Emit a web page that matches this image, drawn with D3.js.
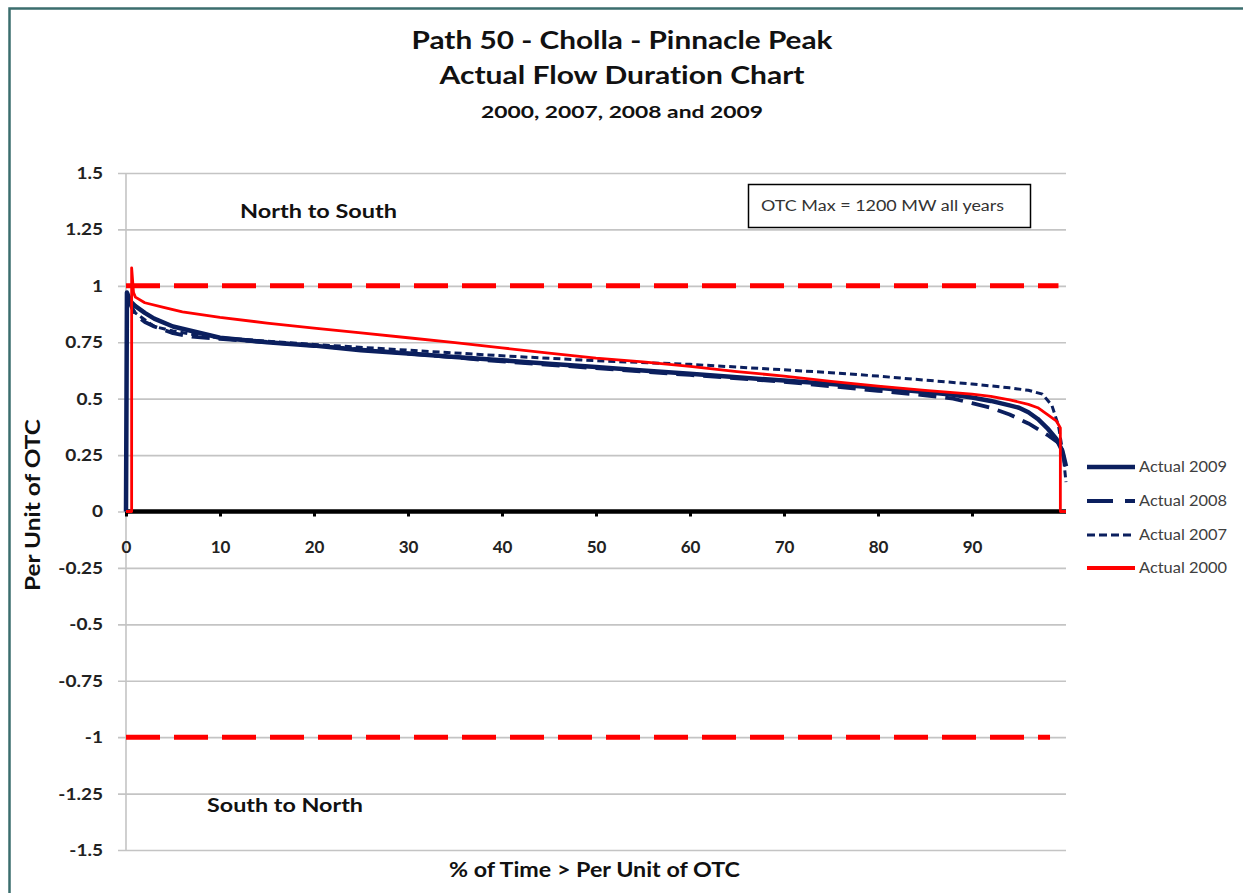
<!DOCTYPE html>
<html><head><meta charset="utf-8">
<script src="https://cdn.jsdelivr.net/npm/d3@7"></script>
<style>
html,body{margin:0;padding:0;background:#fff;}
svg{display:block;}
text{font-family:Lato,"Open Sans",sans-serif;font-variant-ligatures:none;font-feature-settings:"liga" 0,"clig" 0;}
</style></head>
<body>
<svg id="c" width="1243" height="893"></svg>
<script>
// ---- data ----
const titleLines = ["Path 50 - Cholla - Pinnacle Peak", "Actual Flow Duration Chart", "2000, 2007, 2008 and 2009"];
const yTickValues = [1.5, 1.25, 1, 0.75, 0.5, 0.25, 0, -0.25, -0.5, -0.75, -1, -1.25, -1.5];
const yTickLabels = ["1.5", "1.25", "1", "0.75", "0.5", "0.25", "0", "-0.25", "-0.5", "-0.75", "-1", "-1.25", "-1.5"];
const xTickValues = [0, 10, 20, 30, 40, 50, 60, 70, 80, 90];
const xTickLabels = ["0", "10", "20", "30", "40", "50", "60", "70", "80", "90"];
const seriesNames = ["Actual 2009", "Actual 2008", "Actual 2007", "Actual 2000"];

const x2009 = [0, 0.1, 0.5, 1, 2, 3, 5, 7, 10, 15, 20, 25, 30, 35, 40, 45, 50, 55, 60, 65, 70, 75, 80, 85, 88, 90, 92, 94, 95, 96, 97, 98, 99, 99.6, 100];
const y2009 = [0, 0.97, 0.93, 0.91, 0.88, 0.855, 0.82, 0.80, 0.77, 0.75, 0.735, 0.715, 0.70, 0.685, 0.67, 0.655, 0.64, 0.625, 0.61, 0.595, 0.58, 0.565, 0.548, 0.53, 0.517, 0.505, 0.49, 0.47, 0.46, 0.44, 0.41, 0.37, 0.32, 0.27, 0.2];

const x2008 = [0.1, 1, 2, 3, 5, 7, 10, 15, 20, 30, 40, 50, 55, 60, 70, 75, 80, 85, 88, 90, 92, 94, 96, 98, 99, 100];
const y2008 = [0.95, 0.87, 0.84, 0.82, 0.79, 0.775, 0.765, 0.75, 0.735, 0.70, 0.665, 0.635, 0.62, 0.605, 0.575, 0.555, 0.535, 0.515, 0.50, 0.48, 0.46, 0.43, 0.39, 0.34, 0.31, 0.28];

const x2007 = [0.1, 1, 2, 3, 5, 7, 10, 15, 20, 30, 40, 50, 60, 70, 75, 80, 85, 90, 94, 96, 97.5, 98.5, 99.2, 99.7, 100];
const y2007 = [0.94, 0.88, 0.85, 0.82, 0.80, 0.785, 0.77, 0.755, 0.74, 0.715, 0.69, 0.668, 0.652, 0.628, 0.615, 0.60, 0.582, 0.565, 0.548, 0.537, 0.52, 0.47, 0.38, 0.25, 0.13];

const x2000 = [0, 0.6, 0.6, 0.8, 1, 2, 4, 6, 10, 15, 20, 25, 30, 35, 40, 45, 50, 55, 60, 65, 70, 75, 80, 85, 90, 92, 94, 96, 97, 98, 99, 99.4, 99.4, 100];
const y2000 = [0, 0, 1.08, 0.97, 0.95, 0.925, 0.905, 0.885, 0.86, 0.835, 0.813, 0.792, 0.77, 0.748, 0.725, 0.702, 0.68, 0.663, 0.643, 0.62, 0.60, 0.577, 0.556, 0.537, 0.52, 0.51, 0.495, 0.475, 0.46, 0.43, 0.40, 0.37, 0, 0];

const limitUpperX = [0, 99.2];
const limitLowerX = [0, 98.3];
const limitUpper = [1, 1];
const limitLower = [-1, -1];

// ---- chart ----
const svg = d3.select("#c");
const x = d3.scaleLinear().domain([0, 100]).range([126, 1066]);
const y = d3.scaleLinear().domain([-1.5, 1.5]).range([850, 173]);

function fitText(sel, len) {
  return sel.attr("textLength", len).attr("lengthAdjust", "spacingAndGlyphs");
}

// outer border (teal)
svg.append("path").attr("d", "M9.5,893 L9.5,8.5 L1243,8.5")
  .attr("fill", "none").attr("stroke", "#3b6e6e").attr("stroke-width", 2.5);

// title
const titleSizes = [25, 24, 17];
const titleY = [49, 84, 118];
const titleW = [421, 365, 282];
titleLines.forEach((t, i) => {
  fitText(svg.append("text").attr("x", 622).attr("y", titleY[i]).attr("text-anchor", "middle")
    .attr("font-weight", "bold").attr("font-size", titleSizes[i]).attr("fill", "#111").text(t), titleW[i]);
});

// gridlines + y axis labels
const yAxis = d3.axisLeft(y).tickValues(yTickValues)
  .tickFormat((d, i) => yTickLabels[i]).tickSize(-(1066 - 118)).tickPadding(6);
const gy = svg.append("g").attr("transform", "translate(118,0)").call(yAxis);
gy.select(".domain").remove();
gy.selectAll(".tick line").attr("stroke", "#c4c4c4").attr("stroke-width", 1.6);
gy.selectAll(".tick text").attr("font-size", 17).attr("font-weight", "bold").attr("fill", "#222")
  .attr("font-family", "Lato, sans-serif").attr("x", -15 / 1.12).attr("transform", "scale(1.12,1)");

// y axis line
svg.append("line").attr("x1", x(0)).attr("x2", x(0)).attr("y1", y(1.5)).attr("y2", y(-1.5))
  .attr("stroke", "#c4c4c4").attr("stroke-width", 1.6);

// limit lines
const line = d3.line().x(d => x(d[0])).y(d => y(d[1]));
[[limitUpperX, limitUpper], [limitLowerX, limitLower]].forEach(([xs, arr]) => {
  svg.append("path").datum(xs.map((v, i) => [v, arr[i]]))
    .attr("d", line).attr("fill", "none").attr("stroke", "#ff0000")
    .attr("stroke-width", 5).attr("stroke-dasharray", "34,14");
});

// x axis
const xAxis = d3.axisBottom(x).tickValues(xTickValues).tickFormat((d, i) => xTickLabels[i])
  .tickSize(5).tickPadding(6);
const gx = svg.append("g").attr("transform", `translate(0,${y(0)})`).call(xAxis);
gx.select(".domain").attr("stroke", "#000").attr("stroke-width", 4.5).attr("d", `M${x(0)},0H${x(100)}`);
gx.selectAll(".tick line").attr("stroke", "#000").attr("stroke-width", 3);
gx.selectAll(".tick text").attr("font-size", 17).attr("font-weight", "bold").attr("fill", "#222")
  .attr("font-family", "Lato, sans-serif").attr("y", 29);

// series
const navy = "#0b1f5e";
const series = [
  {xs: x2009, ys: y2009, color: navy, w: 4.5, dash: null},
  {xs: x2008, ys: y2008, color: navy, w: 3.8, dash: "18,9"},
  {xs: x2007, ys: y2007, color: navy, w: 3, dash: "7,4"},
  {xs: x2000, ys: y2000, color: "#ff0000", w: 2.8, dash: null}
];
const straight = d3.line().x(d => x(d[0])).y(d => y(d[1]));
series.forEach(s => {
  const pts = s.xs.map((v, i) => [v, s.ys[i]]);
  svg.append("path").datum(pts).attr("d", straight).attr("fill", "none")
    .attr("stroke", s.color).attr("stroke-width", s.w)
    .attr("stroke-linejoin", "round")
    .attr("stroke-dasharray", s.dash);
});

// legend
const legY = [467, 501, 535, 568];
seriesNames.forEach((n, i) => {
  const s = series[i];
  svg.append("line").attr("x1", 1087).attr("x2", 1135).attr("y1", legY[i]).attr("y2", legY[i])
    .attr("stroke", s.color).attr("stroke-width", i === 3 ? 4 : s.w)
    .attr("stroke-dasharray", i === 1 ? "26,12" : (i === 2 ? "8,4" : null));
  fitText(svg.append("text").attr("x", 1139).attr("y", legY[i] + 5).attr("font-size", 15)
    .attr("fill", "#404040").text(n), 88);
});

// annotations
fitText(svg.append("text").attr("x", 240).attr("y", 218).attr("font-size", 19.5).attr("font-weight", "bold")
  .attr("fill", "#111").text("North to South"), 157);
fitText(svg.append("text").attr("x", 207).attr("y", 812).attr("font-size", 19.5).attr("font-weight", "bold")
  .attr("fill", "#111").text("South to North"), 156);

// OTC box
svg.append("rect").attr("x", 748.5).attr("y", 184.5).attr("width", 282).attr("height", 43)
  .attr("fill", "#fff").attr("stroke", "#000").attr("stroke-width", 1.5);
fitText(svg.append("text").attr("x", 761).attr("y", 211).attr("font-size", 15.5).attr("fill", "#333")
  .text("OTC Max = 1200 MW all years"), 243);

// axis titles
fitText(svg.append("text").attr("x", 594.5).attr("y", 877).attr("text-anchor", "middle").attr("font-size", 20)
  .attr("font-weight", "bold").attr("fill", "#111").text("% of Time > Per Unit of OTC"), 291);
fitText(svg.append("text").attr("transform", "translate(40,505) rotate(-90)").attr("text-anchor", "middle")
  .attr("font-size", 20).attr("font-weight", "bold").attr("fill", "#111").text("Per Unit of OTC"), 172);
</script>
</body></html>
